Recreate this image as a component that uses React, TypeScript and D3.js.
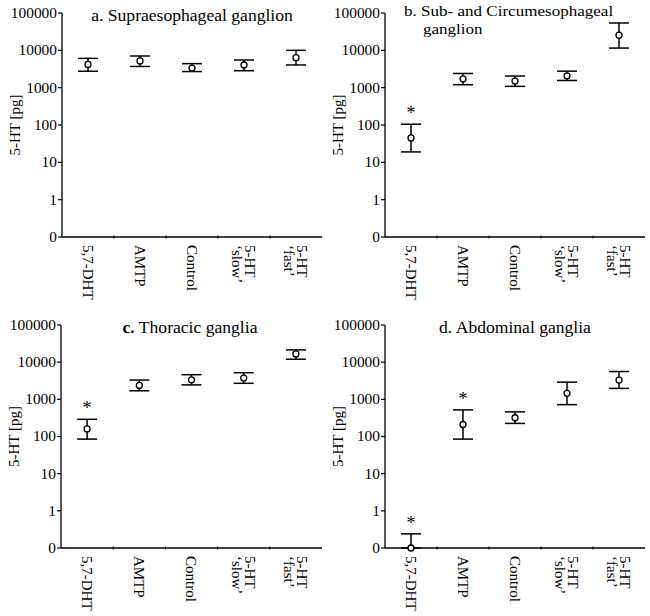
import React from "react";
import * as d3 from "d3";

const categories: string[][] = [["5,7-DHT"], ["AMTP"], ["Control"], ["5-HT", "‘slow’"], ["5-HT", "‘fast’"]];
const tickValues = [0.1, 1, 10, 100, 1000, 10000, 100000];
const tickLabels = ["0", "1", "10", "100", "1000", "10000", "100000"];

const meanA = [4200, 5200, 3350, 4050, 6350];
const upperA = [6100, 7050, 4400, 5500, 10000];
const lowerA = [2750, 3700, 2700, 2850, 4050];
const sigA: number[] = [];

const meanB = [45, 1730, 1500, 2080, 25500];
const upperB = [105, 2400, 2050, 2770, 54000];
const lowerB = [19, 1200, 1085, 1560, 11500];
const sigB = [0];

const meanC = [160, 2370, 3350, 3730, 16700];
const upperC = [290, 3300, 4600, 5200, 21400];
const lowerC = [85, 1700, 2450, 2700, 12000];
const sigC = [0];

const meanD = [0, 210, 320, 1450, 3300];
const upperD = [0.24, 520, 460, 2900, 5600];
const lowerD = [0, 85, 225, 720, 1970];
const sigD = [0, 1];

const FONT = "'Liberation Serif', 'Times New Roman', serif";

type Panel = {
  x0: number; x1: number; yTop: number; yBot: number;
  title: { lines: { text: string; bold?: string; x: number; y: number; anchor: string; size: number }[] };
  mean: number[]; upper: number[]; lower: number[]; sig: number[];
};

const panels: Panel[] = [
  {
    x0: 62, x1: 322, yTop: 13, yBot: 237,
    title: { lines: [{ text: "a. Supraesophageal ganglion", x: 192, y: 20.5, anchor: "middle", size: 16 }] },
    mean: meanA, upper: upperA, lower: lowerA, sig: sigA,
  },
  {
    x0: 385, x1: 645, yTop: 13, yBot: 237,
    title: {
      lines: [
        { text: "b. Sub- and Circumesophageal", x: 404, y: 16, anchor: "start", size: 15.5 },
        { text: "ganglion", x: 423, y: 33.5, anchor: "start", size: 15.5 },
      ],
    },
    mean: meanB, upper: upperB, lower: lowerB, sig: sigB,
  },
  {
    x0: 61, x1: 322, yTop: 325, yBot: 548,
    title: { lines: [{ bold: "c.", text: " Thoracic ganglia", x: 190, y: 333, anchor: "middle", size: 16 }] },
    mean: meanC, upper: upperC, lower: lowerC, sig: sigC,
  },
  {
    x0: 385, x1: 645, yTop: 325, yBot: 548,
    title: { lines: [{ text: "d. Abdominal ganglia", x: 515, y: 333, anchor: "middle", size: 16 }] },
    mean: meanD, upper: upperD, lower: lowerD, sig: sigD,
  },
];

const clampV = (v: number) => (v <= 0.1 ? 0.1 : v);

function PanelView({ p }: { p: Panel }) {
  const y = d3.scaleLog().domain([0.1, 100000]).range([p.yBot, p.yTop]);
  const x = d3.scaleBand<number>().domain(d3.range(categories.length)).range([p.x0, p.x1]);
  const bw = x.bandwidth();
  const cap = 10;
  const sx = "scale(1.1,1)";
  return (
    <g>
      <line x1={p.x0} x2={p.x0} y1={p.yTop} y2={p.yBot} stroke="#000" strokeWidth={1.3} />
      <line x1={p.x0} x2={p.x1} y1={p.yBot} y2={p.yBot} stroke="#000" strokeWidth={1.3} />
      {tickValues.map((t, i) => (
        <g key={"yt" + i}>
          <line x1={p.x0 - 4} x2={p.x0} y1={y(t)} y2={y(t)} stroke="#000" strokeWidth={1.2} />
          <text
            transform={`translate(${p.x0 - 5},${y(t)}) ${sx}`}
            dy="0.35em"
            textAnchor="end"
            fontSize={14}
            fontFamily={FONT}
          >
            {tickLabels[i]}
          </text>
        </g>
      ))}
      {d3.range(1, categories.length).map((i) => (
        <line key={"xt" + i} x1={p.x0 + i * bw} x2={p.x0 + i * bw} y1={p.yBot - 1.5} y2={p.yBot + 1.5} stroke="#000" strokeWidth={1} />
      ))}
      {categories.map((lines, i) => {
        const cx = (x(i) as number) + bw / 2;
        return (
          <text
            key={"cl" + i}
            transform={`translate(${cx},${p.yBot + 8}) rotate(90)`}
            fontSize={15}
            fontFamily={FONT}
            textAnchor="start"
          >
            {lines.map((ln, j) => {
              const off = lines.length === 1 ? 0 : j === 0 ? -6.3 : 6.3;
              return (
                <tspan key={j} x={0} y={off} dy="0.35em">
                  {ln}
                </tspan>
              );
            })}
          </text>
        );
      })}
      <text
        transform={`translate(${p.x0 - 47},${(p.yTop + p.yBot) / 2}) rotate(-90)`}
        textAnchor="middle"
        dy="0.35em"
        fontSize={15}
        fontFamily={FONT}
      >
        5-HT [pg]
      </text>
      {p.title.lines.map((t, i) => (
        <text
          key={"ti" + i}
          transform={`translate(${t.x},${t.y}) ${sx}`}
          textAnchor={t.anchor as any}
          fontSize={t.size}
          fontFamily={FONT}
        >
          {t.bold ? <tspan fontWeight="bold">{t.bold}</tspan> : null}
          {t.text}
        </text>
      ))}
      {p.mean.map((m, i) => {
        const cx = (x(i) as number) + bw / 2;
        const yu = y(clampV(p.upper[i]));
        const yl = y(clampV(p.lower[i]));
        const ym = y(clampV(m));
        return (
          <g key={"eb" + i}>
            <line x1={cx} x2={cx} y1={yu} y2={yl} stroke="#000" strokeWidth={1.5} />
            <line x1={cx - cap} x2={cx + cap} y1={yu} y2={yu} stroke="#000" strokeWidth={1.5} />
            <line x1={cx - cap} x2={cx + cap} y1={yl} y2={yl} stroke="#000" strokeWidth={1.5} />
            <circle cx={cx} cy={ym} r={3} fill="#fff" stroke="#000" strokeWidth={1.3} />
            {p.sig.includes(i) ? (
              <text x={cx} y={yu - 5} textAnchor="middle" fontSize={18} fontFamily={FONT} fill="#000">
                *
              </text>
            ) : null}
          </g>
        );
      })}
    </g>
  );
}

export default function App() {
  return (
    <svg
      width={650}
      height={616}
      style={{ position: "absolute", left: 0, top: 0, background: "#fff" }}
    >
      <rect width={650} height={616} fill="#fff" />
      {panels.map((p, i) => (
        <PanelView key={i} p={p} />
      ))}
    </svg>
  );
}
